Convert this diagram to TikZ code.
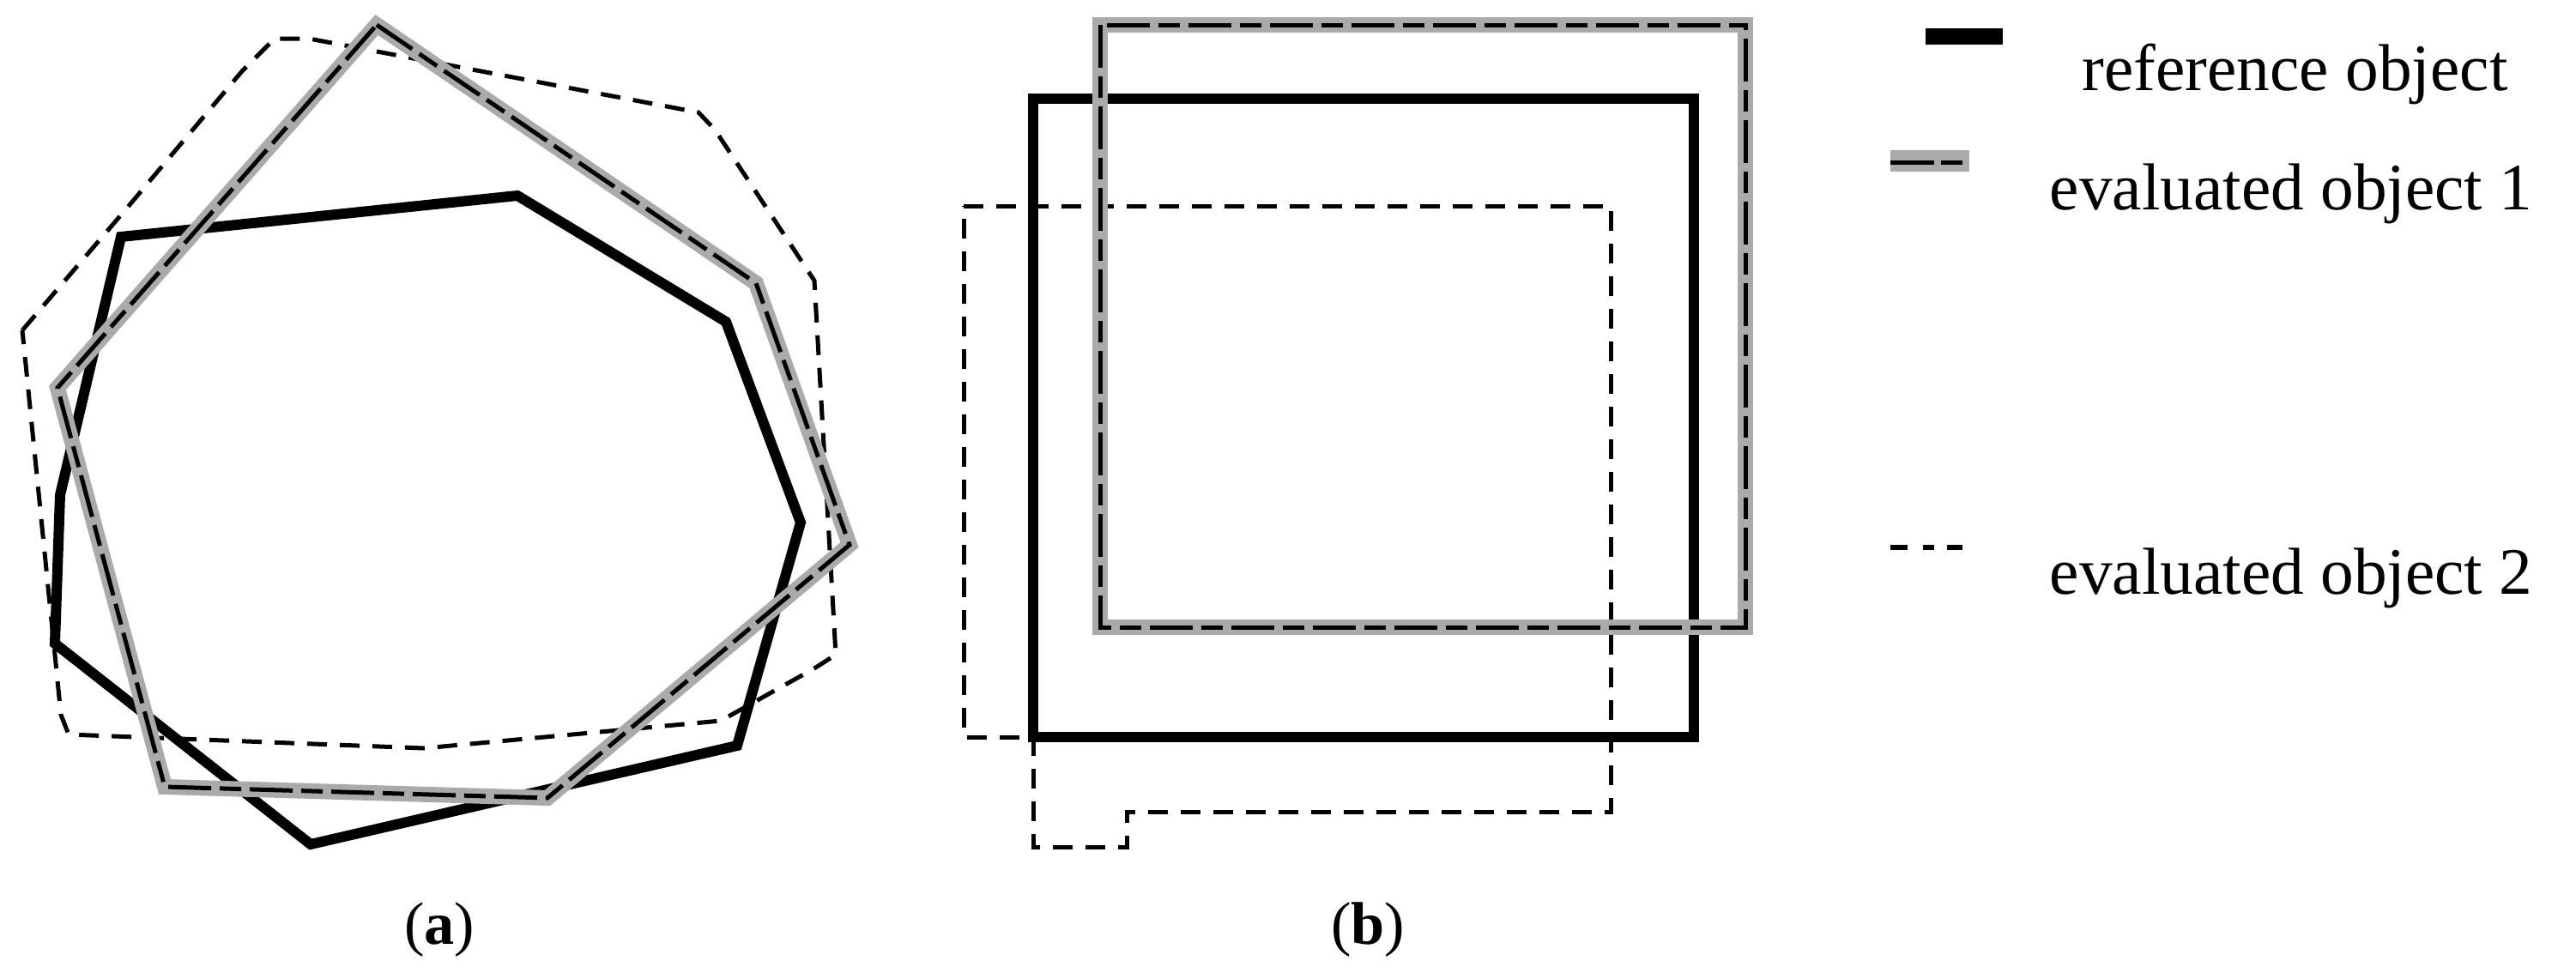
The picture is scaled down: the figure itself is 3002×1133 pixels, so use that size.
\documentclass[tikz,border=0pt]{standalone}
\usepackage{fontspec}
\setmainfont{Liberation Serif}
\definecolor{lgray}{HTML}{AAAAAA}
\begin{document}
\begin{tikzpicture}[x=0.1mm,y=-0.1mm,
  refl/.style={line width=1.2mm,line join=miter},
  ev1g/.style={line width=1.8mm,lgray},
  ev1d/.style={line width=0.5mm,dash pattern=on 5mm off 1mm on 2.5mm off 1mm},
  ev2/.style={line width=0.5mm,dash pattern=on 2.3mm off 1.5mm},
  lbl/.style={font=\fontsize{22pt}{26pt}\selectfont,anchor=base west,inner sep=0},
  captxt/.style={font=\fontsize{20pt}{24pt}\selectfont,anchor=base,inner sep=0}]
\useasboundingbox (0,0) rectangle (3002,1133);
% (a)
\draw[ev2] (26,385)--(150,240)--(282,83)--(320,45)--(360,45)--(814,131)--(833,151)--(949,327)--(974,763)--(949,779)--(840,840)--(494,872)--(80,856)--(71,833)--cycle;
\draw[refl] (141,276)--(603,228)--(846,375)--(933,609)--(859,869)--(362,984)--(64,750)--(70,577)--cycle;
\draw[ev1g] (439,29)--(881,330)--(990,635)--(638,930)--(192,917)--(67,452)--cycle;
\draw[ev1d] (439,29)--(881,330)--(990,635)--(638,930)--(192,917)--(67,452)--cycle;
% (b)
\draw[ev2] (1123,240)--(1877,240)--(1877,946)--(1313,946)--(1313,987)--(1204,987)--(1204,859)--(1123,859)--cycle;
\draw[refl] (1204,115) rectangle (1974,859);
\draw[ev1g] (1282,29) rectangle (2034,731);
\draw[ev1d] (1282,29) rectangle (2034,731);
% legend
\fill (2244,33) rectangle (2334,52);
\fill[lgray] (2203,175) rectangle (2295,200);
\draw[line width=0.5mm] (2203,189)--(2254,189) (2262,189)--(2287,189);
\draw[line width=0.6mm] (2203,638)--(2223,638) (2241,638)--(2254,638) (2269,638)--(2287,638);
\node[lbl] (t1) at (2426,105) {reference object};
\node[lbl] (t2) at (2388,244) {evaluated object 1};
\node[lbl] (t3) at (2388,692) {evaluated object 2};
\node[captxt] (ca) at (512,1100) {(\textbf{a})};
\node[captxt] (cb) at (1594,1100) {(\textbf{b})};
\end{tikzpicture}
\end{document}
